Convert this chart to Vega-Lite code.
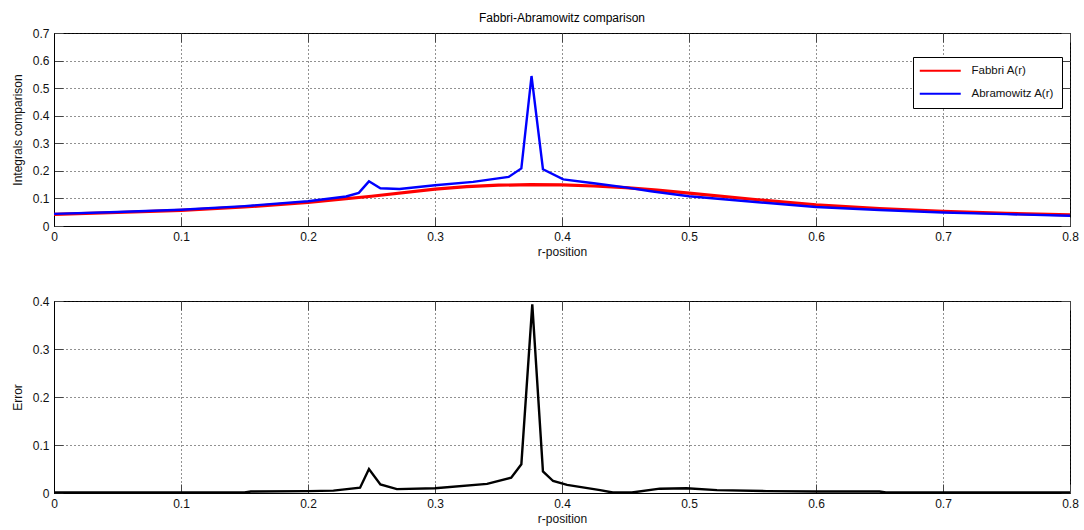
{
  "$schema": "https://vega.github.io/schema/vega-lite/v6.json",
  "autosize": {"type": "pad"},
  "padding": {"left": 10, "top": 11, "right": 5, "bottom": 5},
  "background": "white",
  "title": {"text": "Fabbri-Abramowitz comparison", "font": "Liberation Sans", "fontSize": 12, "fontWeight": "normal", "color": "#000", "anchor": "middle", "frame": "group", "offset": 2},
  "datasets": {
    "top": [
      {"r": 0, "s": "Fabbri A(r)", "v": 0.042},
      {"r": 0.05, "s": "Fabbri A(r)", "v": 0.049},
      {"r": 0.1, "s": "Fabbri A(r)", "v": 0.057},
      {"r": 0.15, "s": "Fabbri A(r)", "v": 0.069},
      {"r": 0.2, "s": "Fabbri A(r)", "v": 0.086},
      {"r": 0.25, "s": "Fabbri A(r)", "v": 0.108},
      {"r": 0.3, "s": "Fabbri A(r)", "v": 0.134},
      {"r": 0.325, "s": "Fabbri A(r)", "v": 0.143},
      {"r": 0.35, "s": "Fabbri A(r)", "v": 0.148},
      {"r": 0.375, "s": "Fabbri A(r)", "v": 0.15},
      {"r": 0.4, "s": "Fabbri A(r)", "v": 0.149},
      {"r": 0.425, "s": "Fabbri A(r)", "v": 0.145},
      {"r": 0.45, "s": "Fabbri A(r)", "v": 0.139},
      {"r": 0.475, "s": "Fabbri A(r)", "v": 0.13},
      {"r": 0.5, "s": "Fabbri A(r)", "v": 0.119},
      {"r": 0.55, "s": "Fabbri A(r)", "v": 0.097},
      {"r": 0.6, "s": "Fabbri A(r)", "v": 0.077},
      {"r": 0.65, "s": "Fabbri A(r)", "v": 0.063},
      {"r": 0.7, "s": "Fabbri A(r)", "v": 0.053},
      {"r": 0.75, "s": "Fabbri A(r)", "v": 0.046},
      {"r": 0.8, "s": "Fabbri A(r)", "v": 0.04},
      {"r": 0, "s": "Abramowitz A(r)", "v": 0.044},
      {"r": 0.05, "s": "Abramowitz A(r)", "v": 0.051},
      {"r": 0.1, "s": "Abramowitz A(r)", "v": 0.059},
      {"r": 0.15, "s": "Abramowitz A(r)", "v": 0.072},
      {"r": 0.2, "s": "Abramowitz A(r)", "v": 0.09},
      {"r": 0.23, "s": "Abramowitz A(r)", "v": 0.107},
      {"r": 0.24, "s": "Abramowitz A(r)", "v": 0.12},
      {"r": 0.248, "s": "Abramowitz A(r)", "v": 0.162},
      {"r": 0.257, "s": "Abramowitz A(r)", "v": 0.137},
      {"r": 0.272, "s": "Abramowitz A(r)", "v": 0.134},
      {"r": 0.3, "s": "Abramowitz A(r)", "v": 0.148},
      {"r": 0.33, "s": "Abramowitz A(r)", "v": 0.16},
      {"r": 0.358, "s": "Abramowitz A(r)", "v": 0.178},
      {"r": 0.368, "s": "Abramowitz A(r)", "v": 0.209},
      {"r": 0.376, "s": "Abramowitz A(r)", "v": 0.544},
      {"r": 0.385, "s": "Abramowitz A(r)", "v": 0.206},
      {"r": 0.401, "s": "Abramowitz A(r)", "v": 0.169},
      {"r": 0.425, "s": "Abramowitz A(r)", "v": 0.155},
      {"r": 0.45, "s": "Abramowitz A(r)", "v": 0.14},
      {"r": 0.47, "s": "Abramowitz A(r)", "v": 0.126},
      {"r": 0.5, "s": "Abramowitz A(r)", "v": 0.108},
      {"r": 0.55, "s": "Abramowitz A(r)", "v": 0.088},
      {"r": 0.6, "s": "Abramowitz A(r)", "v": 0.069},
      {"r": 0.65, "s": "Abramowitz A(r)", "v": 0.058},
      {"r": 0.7, "s": "Abramowitz A(r)", "v": 0.049},
      {"r": 0.75, "s": "Abramowitz A(r)", "v": 0.043},
      {"r": 0.8, "s": "Abramowitz A(r)", "v": 0.037}
    ],
    "err": [
      {"r": 0, "e": 0.001},
      {"r": 0.15, "e": 0.001},
      {"r": 0.155, "e": 0.003},
      {"r": 0.2, "e": 0.004},
      {"r": 0.22, "e": 0.005},
      {"r": 0.241, "e": 0.011},
      {"r": 0.248, "e": 0.05},
      {"r": 0.257, "e": 0.018},
      {"r": 0.27, "e": 0.008},
      {"r": 0.3, "e": 0.01},
      {"r": 0.341, "e": 0.019},
      {"r": 0.36, "e": 0.032},
      {"r": 0.368, "e": 0.06},
      {"r": 0.3766, "e": 0.393},
      {"r": 0.385, "e": 0.045},
      {"r": 0.393, "e": 0.025},
      {"r": 0.404, "e": 0.017},
      {"r": 0.43, "e": 0.006},
      {"r": 0.44, "e": 0.001},
      {"r": 0.455, "e": 0.001},
      {"r": 0.477, "e": 0.009},
      {"r": 0.498, "e": 0.01},
      {"r": 0.522, "e": 0.006},
      {"r": 0.561, "e": 0.004},
      {"r": 0.6, "e": 0.003},
      {"r": 0.65, "e": 0.003},
      {"r": 0.655, "e": 0.001},
      {"r": 0.8, "e": 0.001}
    ]
  },
  "bounds": "flush",
  "spacing": 75,
  "vconcat": [
    {
      "width": 1016,
      "height": 193,
      "data": {"name": "top"},
      "layer": [
        {
          "transform": [{"filter": "datum.s === 'Fabbri A(r)'"}],
          "mark": {"type": "line", "strokeWidth": 3.2},
          "encoding": {
            "x": {"field": "r", "type": "quantitative", "scale": {"domain": [0, 0.8], "nice": false},
                  "axis": {"title": "r-position", "values": [0, 0.1, 0.2, 0.3, 0.4, 0.5, 0.6, 0.7, 0.8], "format": "~g"}},
            "y": {"field": "v", "type": "quantitative", "scale": {"domain": [0, 0.7], "nice": false},
                  "axis": {"title": "Integrals comparison", "values": [0, 0.1, 0.2, 0.3, 0.4, 0.5, 0.6, 0.7], "format": "~g"}},
            "color": {"field": "s", "type": "nominal",
                      "scale": {"domain": ["Fabbri A(r)", "Abramowitz A(r)"], "range": ["#ff0000", "#0000ff"]},
                      "legend": {"title": null, "orient": "none", "legendX": 859, "legendY": 24}}
          }
        },
        {
          "transform": [{"filter": "datum.s === 'Abramowitz A(r)'"}],
          "mark": {"type": "line", "strokeWidth": 2.4},
          "encoding": {
            "x": {"field": "r", "type": "quantitative", "axis": null},
            "y": {"field": "v", "type": "quantitative", "axis": null},
            "color": {"field": "s", "type": "nominal"}
          }
        },
        {
          "mark": {"type": "line", "opacity": 0},
          "encoding": {
            "x": {"field": "r", "type": "quantitative", "axis": {"orient": "top", "title": null, "labels": false, "grid": false, "domain": false, "values": [0, 0.1, 0.2, 0.3, 0.4, 0.5, 0.6, 0.7, 0.8]}},
            "y": {"field": "v", "type": "quantitative", "axis": {"orient": "right", "title": null, "labels": false, "grid": false, "domain": false, "values": [0, 0.1, 0.2, 0.3, 0.4, 0.5, 0.6, 0.7]}},
            "detail": {"field": "s", "type": "nominal"}
          }
        }
      ],
      "resolve": {"axis": {"x": "independent", "y": "independent"}}
    },
    {
      "width": 1016,
      "height": 192,
      "data": {"name": "err"},
      "layer": [
        {
          "mark": {"type": "line", "strokeWidth": 2.4, "color": "#000"},
          "encoding": {
            "x": {"field": "r", "type": "quantitative", "scale": {"domain": [0, 0.8], "nice": false},
                  "axis": {"title": "r-position", "values": [0, 0.1, 0.2, 0.3, 0.4, 0.5, 0.6, 0.7, 0.8], "format": "~g"}},
            "y": {"field": "e", "type": "quantitative", "scale": {"domain": [0, 0.4], "nice": false},
                  "axis": {"title": "Error", "values": [0, 0.1, 0.2, 0.3, 0.4], "format": "~g"}}
          }
        },
        {
          "mark": {"type": "line", "opacity": 0},
          "encoding": {
            "x": {"field": "r", "type": "quantitative", "axis": {"orient": "top", "title": null, "labels": false, "grid": false, "domain": false, "values": [0, 0.1, 0.2, 0.3, 0.4, 0.5, 0.6, 0.7, 0.8]}},
            "y": {"field": "e", "type": "quantitative", "axis": {"orient": "right", "title": null, "labels": false, "grid": false, "domain": false, "values": [0, 0.1, 0.2, 0.3, 0.4]}}
          }
        }
      ],
      "resolve": {"axis": {"x": "independent", "y": "independent"}}
    }
  ],
  "config": {
    "font": "Liberation Sans",
    "view": {"stroke": "#000", "strokeWidth": 1},
    "axis": {
      "labelFont": "Liberation Sans", "labelFontSize": 12, "labelColor": "#111",
      "titleFont": "Liberation Sans", "titleFontSize": 12, "titleFontWeight": "normal", "titleColor": "#111",
      "tickSize": -9, "tickColor": "#444", "tickWidth": 1,
      "domainColor": "#000", "domainWidth": 1,
      "grid": true, "gridColor": "#222", "gridDash": [1, 3], "gridOpacity": 1, "gridWidth": 1,
      "labelPadding": 14, "titlePadding": 4, "labelFlush": false, "labelOverlap": false
    },
    "axisY": {"titlePadding": 8},
    "legend": {
      "labelFont": "Liberation Sans", "labelFontSize": 11.5, "labelColor": "#111",
      "strokeColor": "#000", "fillColor": "#fff", "padding": 8, "rowPadding": 10,
      "symbolType": "M-7,0H34", "symbolSize": 4, "symbolStrokeWidth": 2, "labelOffset": 39
    }
  }
}
